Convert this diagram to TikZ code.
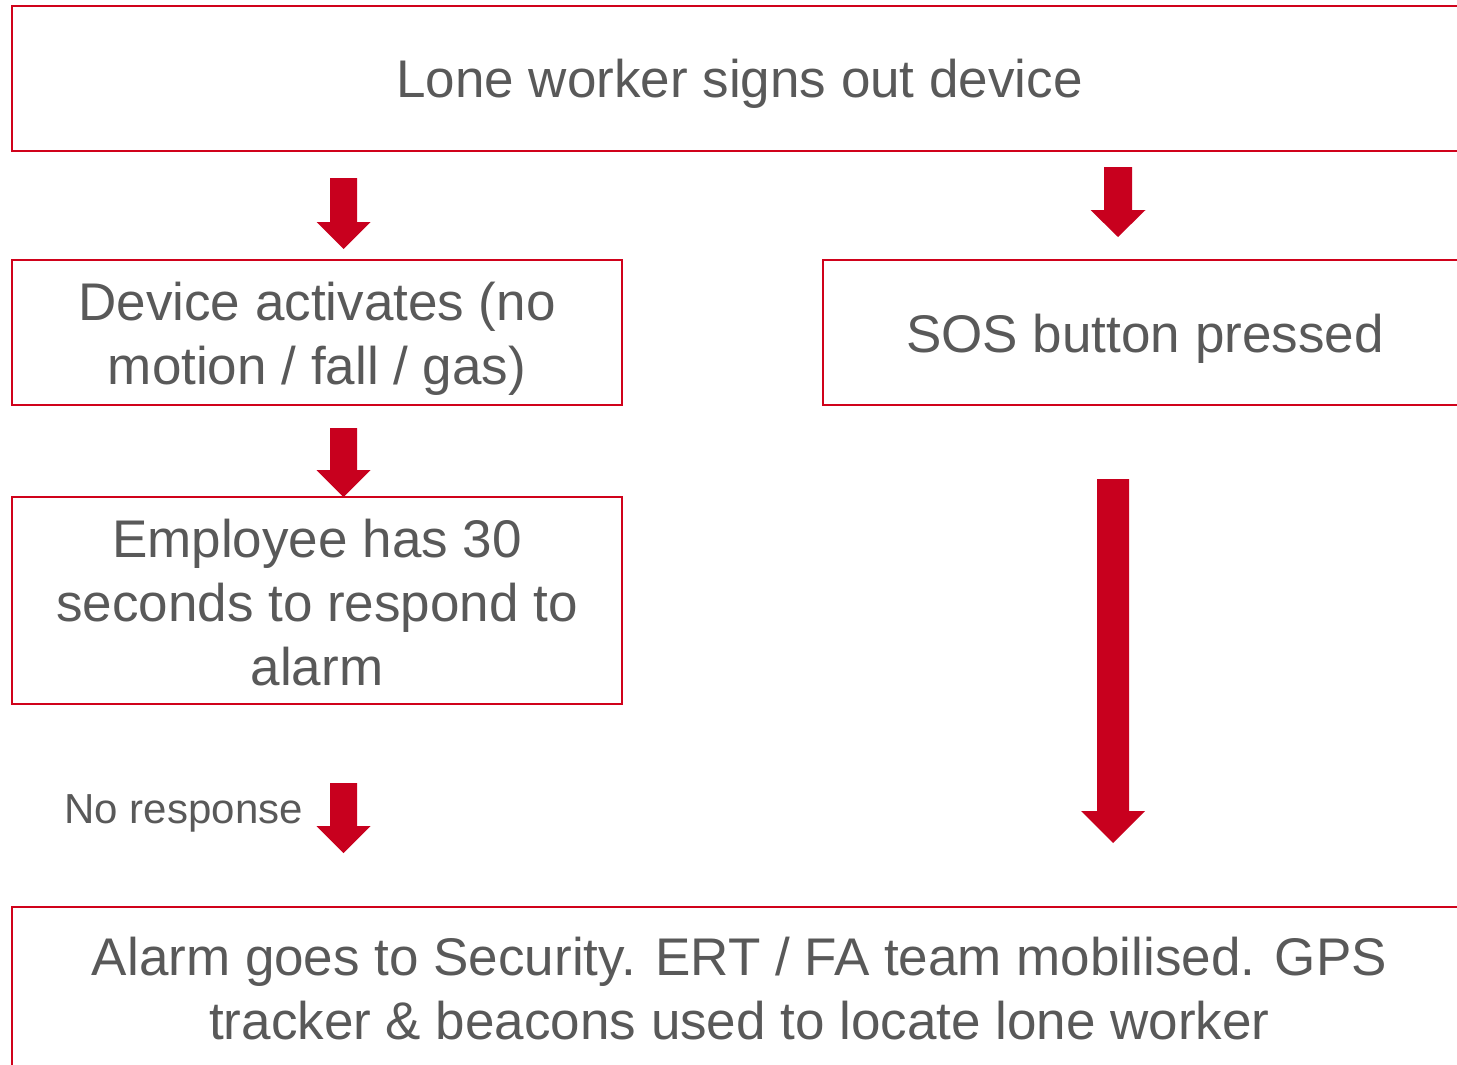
\documentclass[tikz,border=0pt]{standalone}
\usepackage{fontspec}
\setmainfont{Liberation Sans}
\usetikzlibrary{calc}
\definecolor{boxred}{HTML}{D0021B}
\definecolor{arrred}{HTML}{C8001E}
\definecolor{txtgray}{HTML}{595959}
\newcommand{\blockarrow}[5]{%
  \fill[arrred] ($(#1)+(-#3,0)$) -- ($(#2)+(-#3,-#5)$) -- ($(#2)+(-#4,-#5)$) -- (#2)
    -- ($(#2)+(#4,-#5)$) -- ($(#2)+(#3,-#5)$) -- ($(#1)+(#3,0)$) -- cycle;}
\begin{document}
\begin{tikzpicture}[x=1pt,y=-1pt,
  box/.style={draw=boxred, line width=2pt, rectangle, inner sep=0pt},
  txt/.style={inner sep=0pt, align=center, text=txtgray, font=\fontsize{53}{64}\selectfont},
  lbl/.style={inner sep=0pt, text=txtgray, font=\fontsize{42}{50}\selectfont}]
\useasboundingbox (0,0) rectangle (1457,1065);
\clip (0,0) rectangle (1457,1065);
\fill[white] (0,0) rectangle (1457,1065);

\node[box, minimum width=1455, minimum height=145] (top) at (739.5,78.5) {};
\node[box, minimum width=610, minimum height=145] (device) at (317,332.5) {};
\node[box, minimum width=644, minimum height=145] (sos) at (1145,332.5) {};
\node[box, minimum width=610, minimum height=207] (employee) at (317,600.5) {};
\node[box, minimum width=1455, minimum height=172] (alarm) at (739.5,993) {};

\node[txt] (toptxt) at ($(top.center)+(0,5)$) {Lone worker signs out device};
\node[txt] (devicetxt) at ($(device.center)+(0,6)$) {Device activates (no\\motion / fall / gas)};
\node[txt] (sostxt) at ($(sos.center)+(0,6)$) {SOS button pressed};
\node[txt] (employeetxt) at ($(employee.center)+(0,2)$) {Employee has 30\\seconds to respond to\\alarm};
\node[txt] (alarmtxt) at ($(alarm.center)+(0,-4)$) {Alarm goes to Security. ERT / FA team mobilised. GPS\\tracker \& beacons used to locate lone worker};
\node[lbl, anchor=base east] (noresp) at (303,823) {No response};

\coordinate (a1s) at (343.5,178);  \coordinate (a1e) at (343.5,249);
\coordinate (a2s) at (1118,167);   \coordinate (a2e) at (1118,237);
\coordinate (a3s) at (343.5,428);  \coordinate (a3e) at (343.5,497);
\coordinate (a4s) at (343.5,783);  \coordinate (a4e) at (343.5,853);
\coordinate (a5s) at (1113,479);   \coordinate (a5e) at (1113,843);

\blockarrow{a1s}{a1e}{13.5}{27}{27}
\blockarrow{a2s}{a2e}{14}{27.5}{27}
\blockarrow{a3s}{a3e}{13.5}{27}{27}
\blockarrow{a4s}{a4e}{13.5}{27}{27}
\blockarrow{a5s}{a5e}{16}{32}{32}
\end{tikzpicture}
\end{document}
